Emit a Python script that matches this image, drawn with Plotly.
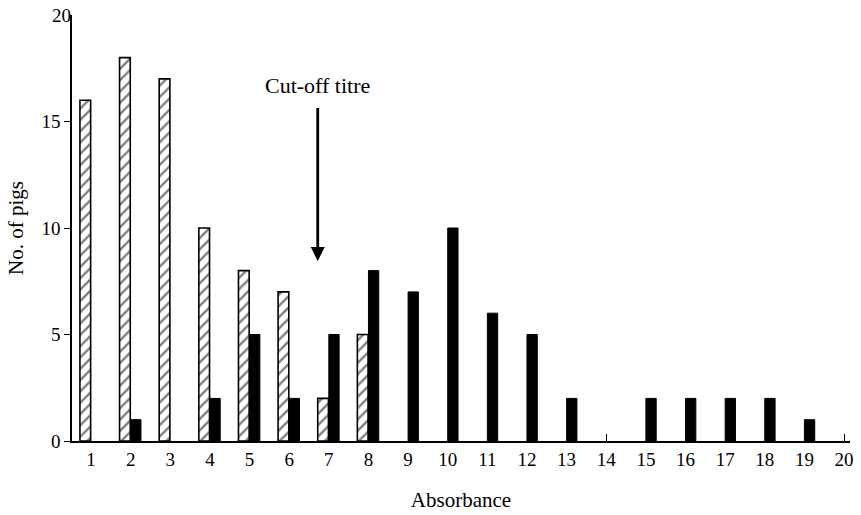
import plotly.graph_objects as go

categories = list(range(1, 21))
hatched_x = [1, 2, 3, 4, 5, 6, 7, 8]
hatched_y = [16, 18, 17, 10, 8, 7, 2, 5]
black_x = [2, 4, 5, 6, 7, 8, 9, 10, 11, 12, 13, 15, 16, 17, 18, 19]
black_y = [1, 2, 5, 2, 5, 8, 7, 10, 6, 5, 2, 2, 2, 2, 2, 1]
y_ticks = [0, 5, 10, 15, 20]

FONT = "Liberation Serif"

fig = go.Figure()
fig.add_trace(go.Bar(
    x=hatched_x, y=hatched_y, width=0.27, offset=-0.28,
    marker=dict(color="white", line=dict(color="black", width=1.6),
                pattern=dict(shape="/", fgcolor="black", bgcolor="white",
                             size=8, solidity=0.3)),
    showlegend=False,
))
fig.add_trace(go.Bar(
    x=black_x, y=black_y, width=0.26, offset=0.0,
    marker=dict(color="black", line=dict(color="black", width=1)),
    showlegend=False,
))
# invisible trace for overlay axes with small inward ticks
fig.add_trace(go.Scatter(x=[14, 20], y=[0, 20], xaxis="x2", yaxis="y2", mode="markers",
                         marker=dict(opacity=0), showlegend=False, hoverinfo="skip"))

fig.update_layout(
    width=861, height=515,
    margin=dict(l=72, r=11, t=15, b=74),
    paper_bgcolor="white", plot_bgcolor="white",
    barmode="overlay",
    font=dict(family=FONT, size=19, color="black"),
    xaxis=dict(range=[0.52, 20.15], tickvals=categories,
               ticktext=[str(c) for c in categories],
               showline=True, linecolor="black", linewidth=1.5,
               ticks="", showgrid=False, zeroline=False, automargin=False,
               title=dict(text="Absorbance", font=dict(family=FONT, size=21), standoff=24),
               tickfont=dict(family=FONT, size=19)),
    xaxis2=dict(range=[0.52, 20.15], overlaying="x", tickvals=[14, 20],
                showticklabels=False, ticks="inside", ticklen=7, tickcolor="black",
                tickwidth=1.2, showgrid=False, zeroline=False, showline=False,
                anchor="y", side="bottom", automargin=False),
    yaxis=dict(range=[0, 20], tickvals=y_ticks[:-1], showline=True, linecolor="black",
               linewidth=1.5, ticks="outside", ticklen=6, tickcolor="black",
               tickwidth=1.2, showgrid=False, zeroline=False, automargin=False,
               title=dict(text="No. of pigs", font=dict(family=FONT, size=21), standoff=12),
               tickfont=dict(family=FONT, size=19)),
    yaxis2=dict(range=[0, 20], overlaying="y", tickvals=[20], ticktext=["20"],
                ticks="inside", ticklen=7, tickcolor="black", tickwidth=1.2,
                showticklabels=True, tickfont=dict(family=FONT, size=19),
                showgrid=False, zeroline=False, showline=False, anchor="x",
                side="left", automargin=False),
)

fig.add_annotation(x=6.72, y=8.45, ax=6.72, ay=15.7, xref="x", yref="y",
                   axref="x", ayref="y", text="", showarrow=True,
                   arrowhead=2, arrowsize=1.0, arrowwidth=2.8, arrowcolor="black")
fig.add_annotation(x=6.72, y=16.0, xref="x", yref="y", text="Cut-off titre",
                   showarrow=False, font=dict(family=FONT, size=22, color="black"),
                   yanchor="bottom")

fig.write_html("out.html", config={"displayModeBar": False},
               post_script="document.body.style.margin='0';")
